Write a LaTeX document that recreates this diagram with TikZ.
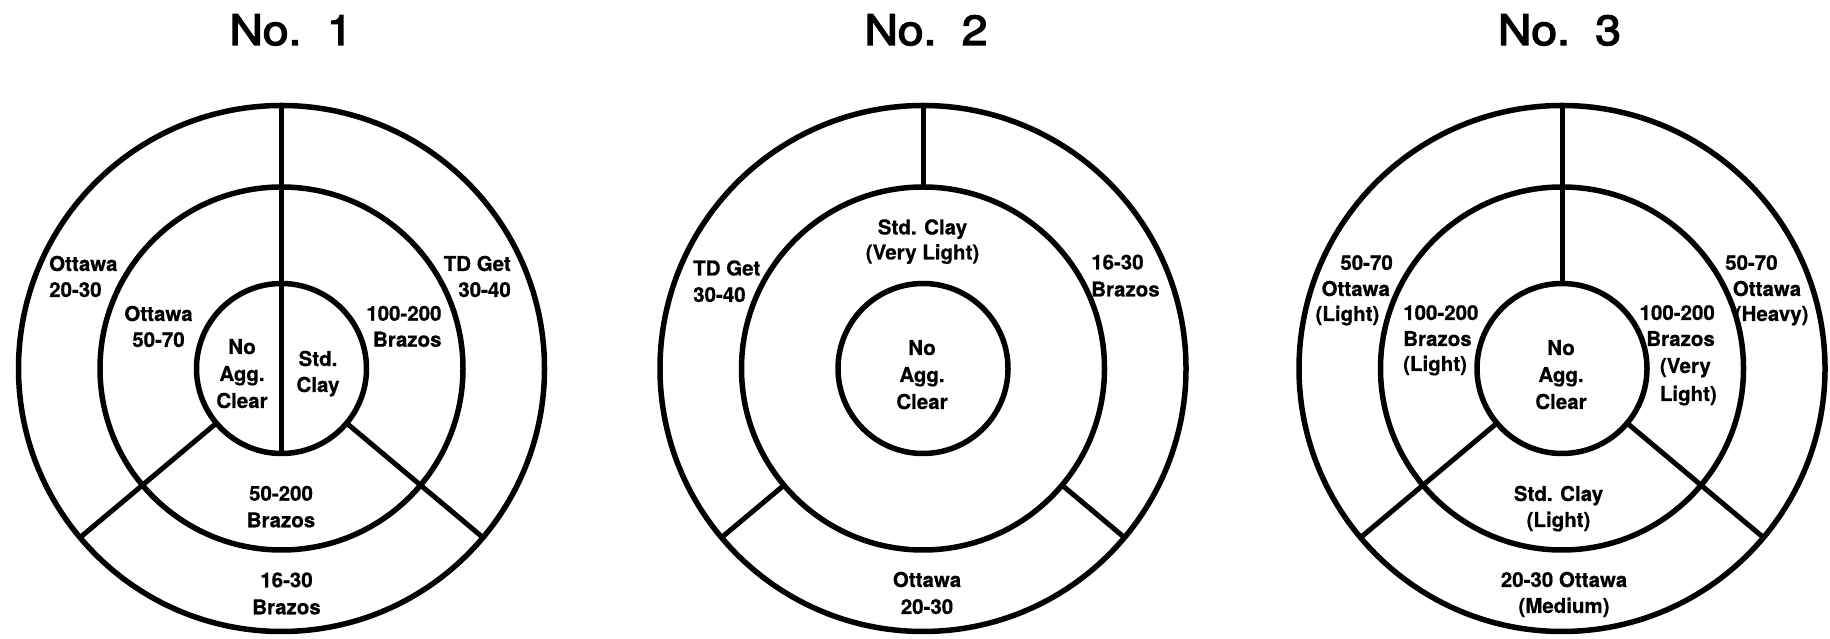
\documentclass[tikz,border=0pt]{standalone}
\usepackage{fontspec}
\setmainfont{TeX Gyre Heros}
\newfontfamily\titlefont{TeX Gyre Heros}[FakeBold=3]
\newfontfamily\labelfont{TeX Gyre Heros}[BoldFeatures={FakeBold=0.6}]
\usepackage{graphicx}
\begin{document}
\begin{tikzpicture}[x=1pt,y=1pt,
  ring/.style={circle, draw=black, line width=5.5pt, inner sep=0pt, outer sep=0pt, minimum size=#1},
  divider/.style={draw=black, line width=5pt},
  lbl/.style={font=\labelfont\fontsize{20.5}{26}\selectfont\bfseries, inner sep=0pt},
  ttl/.style={font=\titlefont\fontsize{42}{42}\selectfont, inner sep=0pt, anchor=base}]
\useasboundingbox (0,0) rectangle (1830,639);

% centres of the three ring diagrams
\coordinate (c1) at (281.5,270.5);
\coordinate (c2) at (923,270.5);
\coordinate (c3) at (1562,270.5);

% titles
\node[ttl] (t1) at (291,594) {\scalebox{1.1}[1]{No.\hspace{0.55em}1}};
\node[ttl] (t2) at (926,594) {\scalebox{1.1}[1]{No.\hspace{0.55em}2}};
\node[ttl] (t3) at (1559.5,594) {\scalebox{1.1}[1]{No.\hspace{0.55em}3}};

% ---------- diagram 1 ----------
\node[ring=526pt] (d1out) at (c1) {};
\node[ring=363pt] (d1mid) at (c1) {};
\node[ring=170pt] (d1in) at (c1) {};
\draw[divider] (d1out.90) -- (d1in.270);
\draw[divider] (d1in.220) -- (d1out.220);
\draw[divider] (d1in.320) -- (d1out.320);

\node[lbl,anchor=base west] (d1oa) at (49,368) {Ottawa};
\node[lbl,anchor=base west] (d1ob) at (49,342) {20-30};
\node[lbl,anchor=base] (d1pa) at (158.5,318) {Ottawa};
\node[lbl,anchor=base] (d1pb) at (158.5,292) {50-70};
\node[lbl,anchor=base] (d1na) at (242,285) {No};
\node[lbl,anchor=base] (d1nb) at (242,258) {Agg.};
\node[lbl,anchor=base] (d1nc) at (242,231) {Clear};
\node[lbl,anchor=base] (d1sa) at (318,273) {Std.};
\node[lbl,anchor=base] (d1sb) at (318,247) {Clay};
\node[lbl,anchor=base east] (d1ba) at (441.7,318.3) {100-200};
\node[lbl,anchor=base east] (d1bb) at (441.7,292.3) {Brazos};
\node[lbl,anchor=base east] (d1ta) at (511,368) {TD Get};
\node[lbl,anchor=base east] (d1tb) at (511,342) {30-40};
\node[lbl,anchor=base] (d1ma) at (281,138.3) {50-200};
\node[lbl,anchor=base] (d1mb) at (281,111.7) {Brazos};
\node[lbl,anchor=base] (d1ua) at (286.5,51.7) {16-30};
\node[lbl,anchor=base] (d1ub) at (286.5,24.7) {Brazos};

% ---------- diagram 2 ----------
\node[ring=526pt] (d2out) at (c2) {};
\node[ring=363pt] (d2mid) at (c2) {};
\node[ring=170pt] (d2in) at (c2) {};
\draw[divider] (d2out.90) -- (d2mid.90);
\draw[divider] (d2mid.220) -- (d2out.220);
\draw[divider] (d2mid.320) -- (d2out.320);

\node[lbl,anchor=base west] (d2ta) at (693,363.5) {TD Get};
\node[lbl,anchor=base west] (d2tb) at (693,337) {30-40};
\node[lbl,anchor=base west] (d2ba) at (1091,369.5) {16-30};
\node[lbl,anchor=base west] (d2bb) at (1091,342.5) {Brazos};
\node[lbl,anchor=base] (d2sa) at (922.5,404.5) {Std. Clay};
\node[lbl,anchor=base] (d2sb) at (922.5,379.5) {(Very Light)};
\node[lbl,anchor=base] (d2na) at (922,284) {No};
\node[lbl,anchor=base] (d2nb) at (922,257) {Agg.};
\node[lbl,anchor=base] (d2nc) at (922,230) {Clear};
\node[lbl,anchor=base] (d2oa) at (927,52) {Ottawa};
\node[lbl,anchor=base] (d2ob) at (927,25) {20-30};

% ---------- diagram 3 ----------
\node[ring=526pt] (d3out) at (c3) {};
\node[ring=363pt] (d3mid) at (c3) {};
\node[ring=170pt] (d3in) at (c3) {};
\draw[divider] (d3out.90) -- (d3in.90);
\draw[divider] (d3in.220) -- (d3out.220);
\draw[divider] (d3in.320) -- (d3out.320);

\node[lbl,anchor=base east] (d3la) at (1393,369) {50-70};
\node[lbl,anchor=base east] (d3lb) at (1390,343) {Ottawa};
\node[lbl,anchor=base east] (d3lc) at (1379.5,318) {(Light)};
\node[lbl,anchor=base west] (d3ra) at (1725,369) {50-70};
\node[lbl,anchor=base west] (d3rb) at (1732.6,343) {Ottawa};
\node[lbl,anchor=base west] (d3rc) at (1734.6,318) {(Heavy)};
\node[lbl,anchor=base west] (d3ma) at (1403,319) {100-200};
\node[lbl,anchor=base west] (d3mb) at (1403,293) {Brazos};
\node[lbl,anchor=base west] (d3mc) at (1403,268) {(Light)};
\node[lbl,anchor=base east] (d3qa) at (1715,319) {100-200};
\node[lbl,anchor=base east] (d3qb) at (1715,293) {Brazos};
\node[lbl,anchor=base east] (d3qc) at (1711,266) {(Very};
\node[lbl,anchor=base east] (d3qd) at (1717,238) {Light)};
\node[lbl,anchor=base] (d3na) at (1561,284) {No};
\node[lbl,anchor=base] (d3nb) at (1561,257) {Agg.};
\node[lbl,anchor=base] (d3nc) at (1561,230) {Clear};
\node[lbl,anchor=base] (d3sa) at (1558.5,138) {Std. Clay};
\node[lbl,anchor=base] (d3sb) at (1558.5,112) {(Light)};
\node[lbl,anchor=base] (d3ua) at (1564,52) {20-30 Ottawa};
\node[lbl,anchor=base] (d3ub) at (1564,26) {(Medium)};
\end{tikzpicture}
\end{document}
